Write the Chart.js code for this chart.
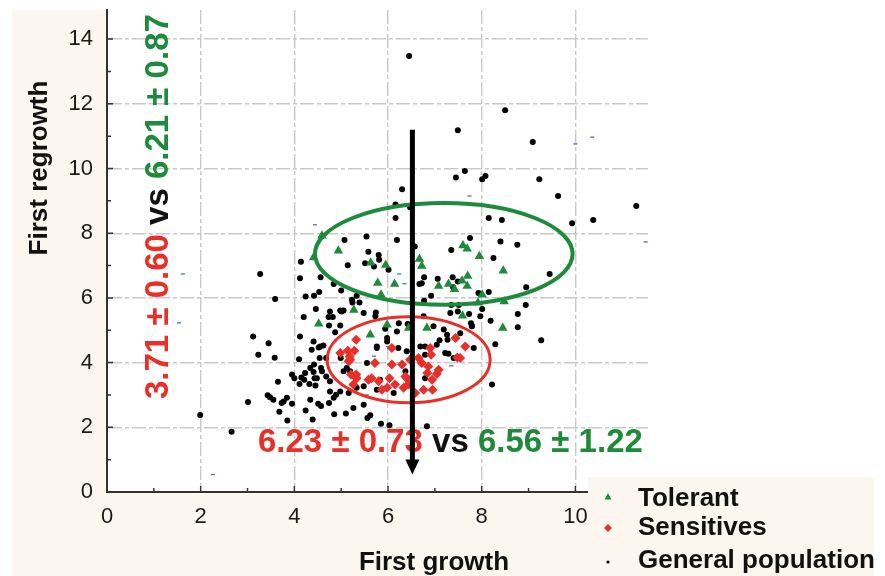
<!DOCTYPE html>
<html>
<head>
<meta charset="utf-8">
<script src="https://cdn.jsdelivr.net/npm/chart.js@4.4.1/dist/chart.umd.min.js"></script>
<style>
  html, body { margin: 0; padding: 0; background: #fff; }
  #wrap { width: 885px; height: 576px; }
</style>
</head>
<body>
<div id="wrap"><canvas id="c" width="885" height="576"></canvas></div>
<script>
// axis ticks
const xTicks = [0, 2, 4, 6, 8, 10];
const yTicks = [0, 2, 4, 6, 8, 10, 12, 14];
const xMinor = [1, 3, 5, 7, 9, 11];
const yMinor = [1, 3, 5, 7, 9, 11, 13];

// series, [first growth, first regrowth]
const tolerant = [
  [4.59,7.92],[4.41,7.25],[4.94,7.46],[5.63,7.09],[5.95,7.02],[5.78,6.46],[6.14,6.43],[5.85,6.10],
  [6.67,7.20],[6.72,6.99],[7.60,7.62],[7.69,7.52],[7.95,7.29],[8.46,6.84],[7.70,6.68],[7.58,6.53],
  [7.29,6.43],[7.08,6.37],[7.42,6.27],[7.69,6.37],[8.01,6.10],[4.52,5.20],[5.27,5.63],[5.98,5.17],
  [7.92,5.85],[7.59,5.45],[8.48,5.89],[8.45,5.07],[6.83,5.07],[6.44,5.07],[5.62,4.86]
];
const sensitives = [
  [5.32,4.71],[4.98,4.30],[5.18,4.19],[5.14,4.37],[5.28,4.37],[5.16,4.04],[5.72,3.99],[6.08,4.45],
  [6.08,3.94],[5.21,3.63],[5.32,3.63],[5.33,3.52],[5.65,3.52],[5.26,3.32],[5.80,3.42],[5.98,3.22],
  [5.87,3.16],[6.03,3.52],[7.44,4.76],[7.65,4.50],[7.48,4.16],[6.92,4.24],[6.30,3.94],[6.47,4.09],
  [6.65,4.14],[6.72,3.99],[6.86,3.88],[6.84,3.68],[7.08,3.78],[7.04,3.65],[6.94,3.47],[6.40,3.52],
  [6.43,3.32],[6.76,3.16],[6.95,3.16],[6.58,3.06],[6.33,3.22],[6.15,3.32],[5.19,4.09],[5.58,3.47],
  [6.37,3.57],[6.90,4.45],[7.54,4.14]
];
const generalPop = [
  [6.45,13.48],[8.50,11.80],[7.49,11.18],[9.09,10.82],[7.64,9.92],[7.45,9.72],[8.01,9.67],[8.08,9.77],
  [9.23,9.67],[6.30,9.36],[9.63,9.15],[11.30,8.84],[6.16,8.89],[6.47,8.80],[6.16,8.47],[8.15,8.47],
  [8.43,8.41],[9.93,8.31],[10.38,8.41],
  [3.27,6.74],[4.14,7.12],[4.12,6.61],[5.07,7.79],[5.54,7.90],[5.58,7.43],[5.80,7.33],[5.14,7.01],
  [5.51,7.07],[5.70,6.97],[5.81,7.18],[6.01,6.87],[6.19,7.79],[6.57,7.59],[6.77,6.64],[6.67,6.43],
  [6.72,6.45],[7.06,6.59],[7.38,6.64],[7.35,7.48],[7.49,6.51],[7.75,7.85],[8.40,7.74],[8.76,7.64],
  [8.25,7.23],[9.45,6.74],[8.95,6.33],[8.15,6.18],[7.93,6.15],[4.84,6.43],[4.56,6.64],[5.00,6.23],
  [4.53,6.18],[4.42,6.07],[4.24,6.04],[6.92,6.07],[5.33,6.07],[3.59,5.97],[7.39,6.33],
  [6.77,5.91],[7.35,5.78],[7.51,5.78],[8.01,5.66],[8.94,5.78],[7.49,5.58],[7.73,5.50],[8.19,5.29],
  [8.77,5.50],[8.77,5.09],[7.77,5.22],[7.79,5.14],[6.42,5.19],[4.20,5.41],[4.46,5.66],[4.73,5.41],
  [4.82,5.41],[4.98,5.61],[5.05,5.61],[4.74,5.15],[4.98,5.15],[5.24,5.86],[5.39,5.86],[5.74,5.55],
  [5.94,5.05],[4.87,4.94],[7.79,5.12],[4.76,5.58],[5.01,5.58],[5.23,5.94],[5.48,5.53],[5.73,5.43],
  [6.23,5.22],[6.76,5.43],[6.97,5.12],[7.19,5.02],[7.33,5.53],[7.97,5.43],
  [3.12,4.81],[3.45,4.60],[3.23,4.24],[3.58,4.15],[4.10,4.10],[3.65,3.41],[3.95,3.63],[4.00,3.52],
  [4.11,3.34],[3.43,2.99],[3.48,2.93],[3.73,2.75],[3.77,2.80],[3.68,2.48],[3.01,2.78],[3.55,2.85],
  [3.95,2.73],[3.85,2.21],[4.24,2.52],[4.34,2.85],[4.51,2.73],[4.57,2.66],[4.74,2.75],[4.85,2.40],
  [5.10,2.43],[4.39,2.24],[5.56,2.29],[5.62,2.37],[5.85,2.11],[2.66,1.86],[6.03,2.06],[1.99,2.38],
  [3.84,2.91],[4.23,3.68],[4.15,3.54],[4.21,3.47],[4.34,3.83],[4.42,3.94],[4.41,3.71],[4.57,3.83],
  [4.59,3.73],[4.52,4.47],[4.62,4.53],[4.54,4.14],[4.68,4.14],[4.37,4.40],[4.43,3.52],[4.48,3.52],
  [4.32,3.34],[4.45,3.29],[4.68,3.57],[4.76,3.42],[4.76,3.11],[4.89,3.01],[4.98,3.11],[4.84,2.91],
  [4.99,4.14],[5.12,3.83],[5.19,3.73],[5.05,3.73],[5.16,3.06],[5.26,2.60],[5.48,2.70],[5.33,3.22],
  [5.76,4.45],[5.98,4.65],[6.12,3.06],[4.41,4.65],[4.55,4.50],[4.12,4.81],
  [5.48,3.27],[5.76,3.16],[5.83,3.47],[5.55,3.99],[5.76,4.50],[5.98,4.76],[6.19,4.96],[7.04,4.55],
  [7.22,4.30],[7.26,4.86],[7.54,4.91],[9.27,4.69],[8.29,4.57],[8.22,3.32],[7.83,4.45],[7.29,4.27],
  [7.40,4.14],[7.10,4.69],[7.27,4.71],[6.69,4.50],[6.79,4.50],[6.40,4.35],[6.22,4.45],[6.79,4.24],
  [6.37,3.73],[6.79,3.52],[6.83,2.03]
];
// tiny blue dash marks scattered in the original
const stray = [
  [1.62,6.74],[1.54,5.23],[2.26,0.54],[4.44,8.26],[7.74,9.15],[10.00,10.76],[10.36,10.97],
  [6.24,6.74],[6.35,6.44],[11.50,7.73],[5.70,4.20],[6.00,4.50],[6.90,4.35],[7.35,3.90],[5.55,3.00]
];

// group ellipses: cx, cy, rx, ry (data units)
const tolerantEllipse = [7.19, 7.36, 2.75, 1.57];
const sensitiveEllipse = [6.44, 4.09, 1.74, 1.33];
// shift arrow: x, from y, to y
const shiftArrow = [6.52, 11.2, 0.54];

const legendItems = ['Tolerant', 'Sensitives', 'General population'];
const rowStats = [['3.71 \u00b1 0.60', 'red'], [' vs ', 'black'], ['6.21 \u00b1 0.87', 'green']];
const colStats = [['6.23 \u00b1 0.73', 'red'], [' vs ', 'black'], ['6.56 \u00b1 1.22', 'green']];

const RED = '#e8302a';
const GREEN = '#1f8a3c';
const CREAM = '#fcf7ee';
const FONT = '"Liberation Sans", Arial, sans-serif';
const colors = { red: RED, green: GREEN, black: '#111' };

const toXY = (arr) => arr.map(([x, y]) => ({ x, y }));

function drawSegs(ctx, segs, x, y) {
  let cx = x;
  for (const [txt, c] of segs) {
    ctx.fillStyle = colors[c];
    ctx.fillText(txt, cx, y);
    cx += ctx.measureText(txt).width;
  }
}

const backdrop = {
  id: 'backdrop',
  beforeDraw(chart) {
    const ctx = chart.ctx;
    ctx.save();
    ctx.fillStyle = '#fff';
    ctx.fillRect(0, 0, chart.width, chart.height);
    ctx.fillStyle = CREAM;
    ctx.fillRect(12, 10, chart.chartArea.left - 12, chart.height - 10);
    ctx.fillRect(12, chart.chartArea.bottom, 590, chart.height - chart.chartArea.bottom);
    ctx.restore();
  }
};

const overlay = {
  id: 'overlay',
  afterDatasetsDraw(chart) {
    const { ctx, chartArea: a } = chart;
    const xs = chart.scales.x, ys = chart.scales.y;
    ctx.save();

    // inward tick marks
    ctx.strokeStyle = '#333';
    ctx.lineWidth = 1.5;
    ctx.beginPath();
    xTicks.forEach(v => { const p = xs.getPixelForValue(v); ctx.moveTo(p, a.bottom); ctx.lineTo(p, a.bottom - 6); });
    xMinor.forEach(v => { const p = xs.getPixelForValue(v); ctx.moveTo(p, a.bottom); ctx.lineTo(p, a.bottom - 4); });
    yTicks.forEach(v => { const p = ys.getPixelForValue(v); ctx.moveTo(a.left, p); ctx.lineTo(a.left + 6, p); });
    yMinor.forEach(v => { const p = ys.getPixelForValue(v); ctx.moveTo(a.left, p); ctx.lineTo(a.left + 4, p); });
    ctx.stroke();

    // ellipses
    const ell = ([cx, cy, rx, ry], color, w) => {
      const px = xs.getPixelForValue(cx), py = ys.getPixelForValue(cy);
      const prx = Math.abs(xs.getPixelForValue(cx + rx) - px);
      const pry = Math.abs(ys.getPixelForValue(cy + ry) - py);
      ctx.strokeStyle = color;
      ctx.lineWidth = w;
      ctx.beginPath();
      ctx.ellipse(px, py, prx, pry, 0, 0, Math.PI * 2);
      ctx.stroke();
    };
    ell(tolerantEllipse, GREEN, 4);
    ell(sensitiveEllipse, RED, 3);

    // stats text
    ctx.font = 'bold 33px ' + FONT;
    ctx.textBaseline = 'alphabetic';
    ctx.textAlign = 'left';
    drawSegs(ctx, colStats, 258, 452);
    ctx.save();
    ctx.translate(168, 399);
    ctx.rotate(-Math.PI / 2);
    drawSegs(ctx, rowStats, 0, 0);
    ctx.restore();

    // arrow
    const ax = xs.getPixelForValue(shiftArrow[0]);
    const ay0 = ys.getPixelForValue(shiftArrow[1]);
    const ay1 = ys.getPixelForValue(shiftArrow[2]);
    ctx.strokeStyle = '#000';
    ctx.fillStyle = '#000';
    ctx.lineWidth = 5;
    ctx.beginPath();
    ctx.moveTo(ax, ay0);
    ctx.lineTo(ax, ay1 - 12);
    ctx.stroke();
    ctx.beginPath();
    ctx.moveTo(ax - 7, ay1 - 15);
    ctx.lineTo(ax + 7, ay1 - 15);
    ctx.lineTo(ax, ay1);
    ctx.closePath();
    ctx.fill();
    ctx.restore();
  },
  afterDraw(chart) {
    const ctx = chart.ctx;
    ctx.save();
    // axis titles
    ctx.fillStyle = '#111';
    ctx.font = 'bold 26px ' + FONT;
    ctx.textAlign = 'center';
    ctx.textBaseline = 'alphabetic';
    ctx.fillText('First growth', 434, 570);
    ctx.save();
    ctx.translate(47, 168);
    ctx.rotate(-Math.PI / 2);
    ctx.fillText('First regrowth', 0, 0);
    ctx.restore();

    // legend
    ctx.fillStyle = CREAM;
    ctx.fillRect(588, 477, 286, 99);
    const mx = 608, rows = [497, 528, 562], base = [506, 535, 568];
    ctx.fillStyle = GREEN;
    ctx.beginPath();
    ctx.moveTo(mx, rows[0] - 4); ctx.lineTo(mx + 3.5, rows[0] + 2.5); ctx.lineTo(mx - 3.5, rows[0] + 2.5);
    ctx.closePath(); ctx.fill();
    ctx.fillStyle = RED;
    ctx.beginPath();
    ctx.moveTo(mx, rows[1] - 4); ctx.lineTo(mx + 4, rows[1]); ctx.lineTo(mx, rows[1] + 4); ctx.lineTo(mx - 4, rows[1]);
    ctx.closePath(); ctx.fill();
    ctx.fillStyle = '#000';
    ctx.beginPath();
    ctx.arc(mx, rows[2], 1.6, 0, Math.PI * 2);
    ctx.fill();
    ctx.fillStyle = '#111';
    ctx.font = 'bold 26px ' + FONT;
    ctx.textAlign = 'left';
    legendItems.forEach((t, i) => ctx.fillText(t, 638, base[i]));
    ctx.restore();
  }
};

const axisBase = {
  type: 'linear',
  grid: { color: '#c9c9c9', lineWidth: 1.4, drawTicks: false },
  border: { color: '#333', width: 2, dash: [14, 3, 4, 3] },
  ticks: { color: '#1a1a1a', font: { family: FONT, size: 22 }, maxRotation: 0 }
};

new Chart(document.getElementById('c'), {
  type: 'scatter',
  data: {
    datasets: [
      { label: 'Sensitives', data: toXY(sensitives), pointStyle: 'rectRot', pointRadius: 5,
        backgroundColor: RED, borderColor: RED, borderWidth: 0, order: 1 },
      { label: 'Tolerant', data: toXY(tolerant), pointStyle: 'triangle', pointRadius: 5.5,
        backgroundColor: GREEN, borderColor: GREEN, borderWidth: 0, order: 2 },
      { label: 'General population', data: toXY(generalPop), pointStyle: 'circle', pointRadius: 3,
        backgroundColor: '#000', borderColor: '#000', borderWidth: 0, order: 3 },
      { label: 'stray', data: toXY(stray), pointStyle: 'line', pointRadius: 2,
        borderColor: '#4a6ad4', borderWidth: 1.3, order: 4 }
    ]
  },
  options: {
    responsive: false,
    animation: false,
    devicePixelRatio: 1,
    layout: { padding: { left: 0, right: 237, top: 10, bottom: 0 } },
    plugins: { legend: { display: false }, tooltip: { enabled: false } },
    scales: {
      x: { ...axisBase, min: 0, max: 11.55,
        ticks: { ...axisBase.ticks, padding: 12 },
        afterBuildTicks: s => { s.ticks = xTicks.map(v => ({ value: v })); },
        afterFit: s => { s.height = 84; s.paddingLeft = 0; s.paddingRight = 0; } },
      y: { ...axisBase, min: 0, max: 14.9,
        ticks: { ...axisBase.ticks, padding: 14 },
        afterBuildTicks: s => { s.ticks = yTicks.map(v => ({ value: v })); },
        afterFit: s => { s.width = 107; s.paddingTop = 0; s.paddingBottom = 0; } }
    }
  },
  plugins: [backdrop, overlay]
});
</script>
</body>
</html>
